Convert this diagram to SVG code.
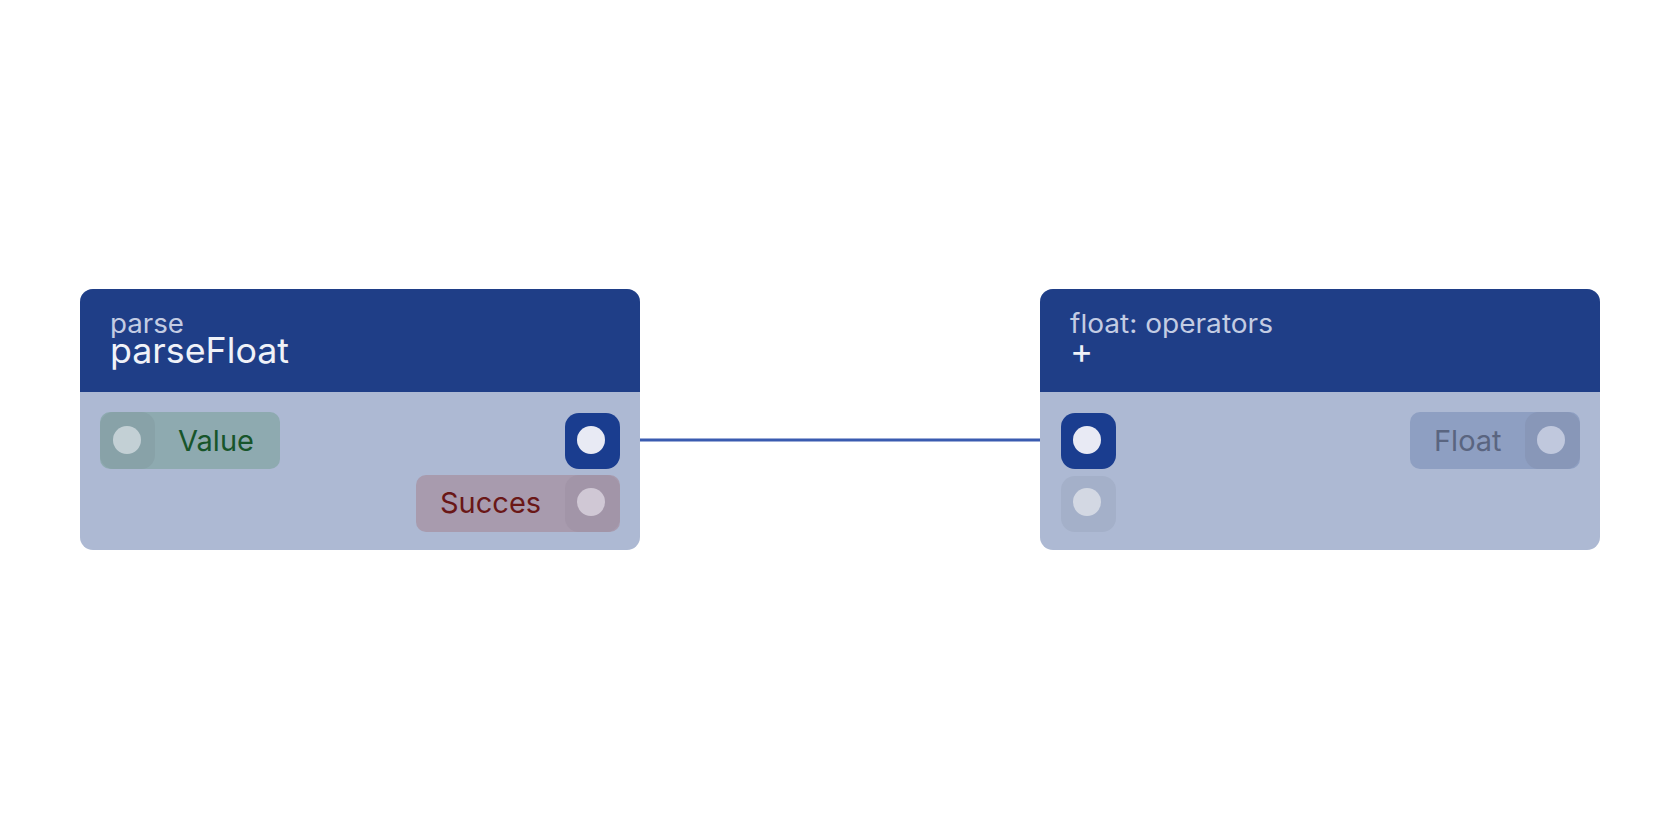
<svg xmlns="http://www.w3.org/2000/svg" width="1680" height="840" viewBox="0 0 1680 840">
<style>
.body{fill:#adb9d3}.hdr{fill:#1f3e87}
.t1{font-family:Inter,"Liberation Sans",sans-serif;font-size:26px;fill:#c3cce3}
.t2{font-family:Inter,"Liberation Sans",sans-serif;font-size:35px;fill:#f0f2f8}
.lbl{font-family:Inter,"Liberation Sans",sans-serif;font-size:29px}
.pa{fill:#1a3d8f}.pc{fill:#e8eaf4}
</style>
<rect width="1680" height="840" fill="#fff"/>
<g id="connectors"><line x1="619" y1="440" x2="1061" y2="440" stroke="#3a5bb0" stroke-width="3"/></g>
<g id="node-parseFloat">
<rect x="80" y="289" width="560" height="261" rx="13" class="body"/>
<path d="M80 392V302a13 13 0 0 1 13-13h534a13 13 0 0 1 13 13v90z" class="hdr"/>
<text x="110" y="333" class="t1" textLength="74" lengthAdjust="spacingAndGlyphs">parse</text>
<text x="110" y="363" class="t2" textLength="179" lengthAdjust="spacingAndGlyphs">parseFloat</text>
<rect x="100" y="412" width="180" height="57" rx="10" fill="#8eaab0"/>
<rect x="100" y="412" width="55" height="57" rx="14" fill="#88a2a8"/>
<circle cx="127" cy="440" r="14" fill="#c3d0d5"/>
<text x="216" y="451" class="lbl" fill="#17552a" text-anchor="middle">Value</text>
<rect x="565" y="413" width="55" height="56" rx="14" class="pa"/>
<circle cx="591" cy="440" r="14" class="pc"/>
<rect x="416" y="475" width="204" height="57" rx="10" fill="#a89bae"/>
<rect x="565" y="475" width="55" height="57" rx="14" fill="#a295a8"/>
<circle cx="591" cy="502" r="14" fill="#d0c8d5"/>
<text x="440" y="513" class="lbl" fill="#6a1717">Succes</text>
</g>
<g id="node-plus">
<rect x="1040" y="289" width="560" height="261" rx="13" class="body"/>
<path d="M1040 392V302a13 13 0 0 1 13-13h534a13 13 0 0 1 13 13v90z" class="hdr"/>
<text x="1070" y="333" class="t1" textLength="203" lengthAdjust="spacingAndGlyphs">float: operators</text>
<text x="1070" y="363" class="t2">+</text>
<rect x="1061" y="413" width="55" height="56" rx="14" class="pa"/>
<circle cx="1087" cy="440" r="14" class="pc"/>
<rect x="1061" y="476" width="55" height="56" rx="14" fill="#a4b0c9"/>
<circle cx="1087" cy="502" r="14" fill="#d3d8e3"/>
<rect x="1410" y="412" width="170" height="57" rx="10" fill="#8e9fc2"/>
<rect x="1525" y="412" width="55" height="57" rx="14" fill="#8897b8"/>
<circle cx="1551" cy="440" r="14" fill="#c0c8dd"/>
<text x="1434" y="451" class="lbl" fill="#5a6580">Float</text>
</g>
</svg>
